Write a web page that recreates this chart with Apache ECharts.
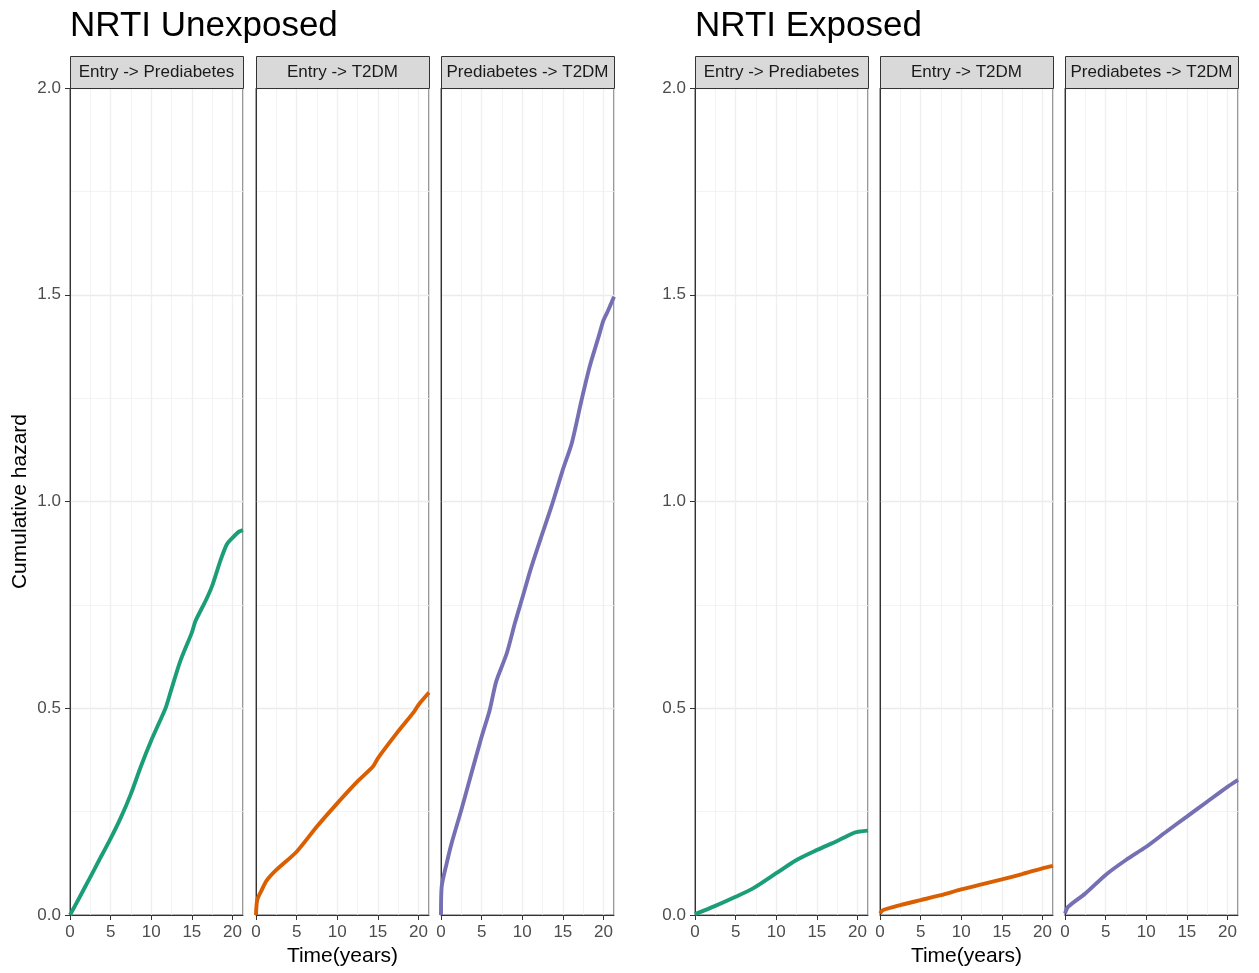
<!DOCTYPE html>
<html>
<head>
<meta charset="utf-8">
<script src="https://cdn.jsdelivr.net/npm/echarts@6/dist/echarts.min.js"></script>
<style>
  html, body { margin: 0; padding: 0; background: #fff; }
  #chart { width: 1259px; height: 973px; }
</style>
</head>
<body>
<div id="chart"></div>
<script>
const FONT = '"Liberation Sans", Arial, sans-serif'

const groupTitles = ['NRTI Unexposed', 'NRTI Exposed']
const panelNames = ['Entry -> Prediabetes', 'Entry -> T2DM', 'Prediabetes -> T2DM']
const panelColors = ['#1b9e77', '#d95f02', '#7570b3']
const xTicks = [0, 5, 10, 15, 20]
const xMax = 21.3
const yMax = 2.0

// cumulative hazard, time in years — NRTI unexposed
const unexpPreTime = [0, 1.1, 2.4, 3.6, 4.9, 6.2, 7.5, 8.7, 10, 11, 11.8, 12.5, 13.6, 15, 15.45, 16.7, 17.5, 18.5, 19.3, 20, 20.8, 21.3]
const unexpPreHaz  = [0, 0.04, 0.088, 0.133, 0.181, 0.233, 0.293, 0.358, 0.422, 0.466, 0.502, 0.547, 0.615, 0.683, 0.711, 0.76, 0.796, 0.856, 0.896, 0.912, 0.927, 0.931]

const unexpT2Time = [0, 0.15, 0.7, 1.3, 2.5, 5, 7.5, 10, 12.5, 14.4, 15, 17.5, 19.4, 20, 21.3]
const unexpT2Haz  = [0, 0.036, 0.06, 0.083, 0.109, 0.153, 0.214, 0.27, 0.323, 0.359, 0.379, 0.444, 0.49, 0.508, 0.538]

const unexpPreT2Time = [0, 0.08, 0.7, 1.3, 2.5, 3.4, 5, 6, 6.8, 8.1, 9.1, 10, 11.1, 12.3, 13.6, 15, 16.1, 17.3, 18.3, 19.4, 20, 20.6, 21.3]
const unexpPreT2Haz  = [0, 0.068, 0.125, 0.173, 0.254, 0.318, 0.431, 0.496, 0.565, 0.633, 0.706, 0.766, 0.84, 0.912, 0.988, 1.077, 1.141, 1.245, 1.326, 1.398, 1.438, 1.463, 1.495]

// NRTI exposed
const expPreTime = [0, 2.5, 5, 7.2, 10, 12.5, 15, 17.5, 19.6, 20.3, 21.3]
const expPreHaz  = [0.002, 0.022, 0.044, 0.065, 0.101, 0.133, 0.157, 0.179, 0.199, 0.202, 0.204]

const expT2Time = [0, 0.4, 2.5, 5, 7.5, 10, 12.5, 15, 17.5, 20, 21.3]
const expT2Haz  = [0.004, 0.012, 0.024, 0.036, 0.048, 0.062, 0.074, 0.086, 0.099, 0.113, 0.119]

const expPreT2Time = [0, 0.4, 2.5, 5, 7.5, 10, 12.5, 15, 17.5, 20, 21.3]
const expPreT2Haz  = [0.004, 0.02, 0.052, 0.097, 0.133, 0.165, 0.202, 0.238, 0.274, 0.31, 0.327]

const curves = [
  [unexpPreTime, unexpPreHaz],
  [unexpT2Time, unexpT2Haz],
  [unexpPreT2Time, unexpPreT2Haz],
  [expPreTime, expPreHaz],
  [expT2Time, expT2Haz],
  [expPreT2Time, expPreT2Haz],
]

// layout
const panelLefts = [70, 256, 441, 695, 880, 1065]
const panelW = 173
const panelTop = 88
const panelH = 827
const stripH = 32

const chart = echarts.init(document.getElementById('chart'))

const grid = [], xAxis = [], yAxis = [], series = [], graphic = []

panelLefts.forEach((left, i) => {
  const firstCol = i % 3 === 0
  grid.push({
    left, top: panelTop, width: panelW, height: panelH,
    show: true, backgroundColor: '#fff', borderColor: '#333', borderWidth: 1
  })
  // main x axis (ticks, labels, major grid)
  xAxis.push({
    type: 'value', gridIndex: i, min: 0, max: xMax, interval: 5,
    axisLine: { show: true, lineStyle: { color: '#333', width: 1 } },
    axisTick: { show: true, customValues: xTicks, length: 5, lineStyle: { color: '#333' } },
    axisLabel: { customValues: xTicks, color: '#4d4d4d', fontSize: 17, fontFamily: FONT, margin: 9 },
    splitLine: { show: true, lineStyle: { color: '#ebebeb', width: 1.3 } },
    name: i % 3 === 1 ? 'Time(years)' : '',
    nameLocation: 'middle', nameGap: 31,
    nameTextStyle: { fontSize: 21, color: '#000', fontFamily: FONT }
  })
  // helper x axis for the minor grid lines
  xAxis.push({
    type: 'value', gridIndex: i, min: 0, max: xMax, interval: 2.5,
    axisLine: { show: false }, axisTick: { show: false }, axisLabel: { show: false },
    splitLine: { show: true, lineStyle: { color: '#f0f0f0', width: 0.8 } }
  })
  yAxis.push({
    type: 'value', gridIndex: i, min: 0, max: yMax, interval: 0.5,
    axisLine: { show: true, lineStyle: { color: '#333', width: 1 } },
    axisTick: { show: firstCol, length: 5, lineStyle: { color: '#333' } },
    axisLabel: {
      show: firstCol, color: '#4d4d4d', fontSize: 17, fontFamily: FONT, margin: 9,
      formatter: v => v.toFixed(1)
    },
    splitLine: { show: true, lineStyle: { color: '#ebebeb', width: 1.3 } },
    minorTick: { show: false, splitNumber: 2 },
    minorSplitLine: { show: true, lineStyle: { color: '#f0f0f0', width: 0.8 } },
    name: i === 0 ? 'Cumulative hazard' : '',
    nameLocation: 'middle', nameGap: 39,
    nameTextStyle: { fontSize: 21, color: '#000', fontFamily: FONT }
  })
  const [ts, hs] = curves[i]
  series.push({
    type: 'line', xAxisIndex: i * 2, yAxisIndex: i,
    data: ts.map((t, k) => [t, hs[k]]),
    showSymbol: false, symbol: 'none', clip: true, smooth: 0.25,
    lineStyle: { color: panelColors[i % 3], width: 3.9 },
    itemStyle: { color: panelColors[i % 3] },
    animation: false
  })
  // facet strip
  graphic.push({
    type: 'rect', left, top: panelTop - stripH, z: 10,
    shape: { width: panelW, height: stripH },
    style: { fill: '#d9d9d9', stroke: '#333', lineWidth: 1 }
  })
  graphic.push({
    type: 'text', x: left + panelW / 2, y: panelTop - stripH / 2, z: 11,
    style: {
      text: panelNames[i % 3], fill: '#1a1a1a', font: '17px ' + FONT,
      textAlign: 'center', textVerticalAlign: 'middle'
    }
  })
})

chart.setOption({
  animation: false,
  backgroundColor: '#fff',
  title: groupTitles.map((t, g) => ({
    text: t, left: panelLefts[g * 3], top: 9, padding: 0,
    textStyle: { fontSize: 35, fontWeight: 'normal', color: '#000', fontFamily: FONT }
  })),
  grid, xAxis, yAxis, series, graphic
})
</script>
</body>
</html>
